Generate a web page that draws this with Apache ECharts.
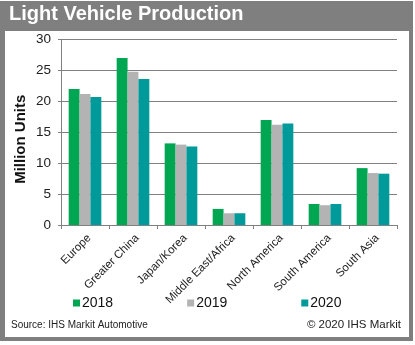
<!DOCTYPE html>
<html>
<head>
<meta charset="utf-8">
<style>
  html, body { margin: 0; padding: 0; background: #ffffff; }
  #chart { width: 415px; height: 345px; }
</style>
<script src="https://cdn.jsdelivr.net/npm/echarts@6/dist/echarts.min.js"></script>
</head>
<body>
<div id="chart"></div>
<script>
// Light vehicle production by region, million units
const regions = ['Europe', 'Greater China', 'Japan/Korea', 'Middle East/Africa', 'North America', 'South America', 'South Asia'];
const years = ['2018', '2019', '2020'];
const prod2018 = [22.0, 27.0, 13.2, 2.6, 17.0, 3.4, 9.2];
const prod2019 = [21.2, 24.8, 13.0, 1.9, 16.2, 3.2, 8.4];
const prod2020 = [20.7, 23.6, 12.7, 1.9, 16.4, 3.4, 8.3];
const yTicks = [0, 5, 10, 15, 20, 25, 30];

const colors = ['#00a651', '#b3b3b3', '#009a9a'];
const font = 'Liberation Sans, Arial, sans-serif';

const chart = echarts.init(document.getElementById('chart'), null, { renderer: 'canvas' });

const seriesData = [prod2018, prod2019, prod2020];

chart.setOption({
  animation: false,
  backgroundColor: '#ffffff',
  color: colors,
  graphic: [
    // grey frame with header band
    { type: 'rect', z: -10, shape: { x: 0, y: 1, width: 413, height: 340 }, style: { fill: '#7f7f7f' } },
    // white panel
    { type: 'rect', z: -9, shape: { x: 5, y: 31, width: 404, height: 306 }, style: { fill: '#ffffff' } }
  ],
  title: [
    {
      text: 'Light Vehicle Production',
      left: 9, top: 4, padding: 0,
      textStyle: { color: '#ffffff', fontFamily: font, fontWeight: 'bold', fontSize: 20 }
    },
    {
      text: 'Source: IHS Markit Automotive',
      left: 11, top: 320, padding: 0,
      textStyle: { color: '#222222', fontFamily: font, fontWeight: 'normal', fontSize: 10 }
    },
    {
      text: '\u00a9 2020 IHS Markit',
      right: 14, top: 319, padding: 0,
      textStyle: { color: '#222222', fontFamily: font, fontWeight: 'normal', fontSize: 11.5 }
    }
  ],
  legend: {
    data: years,
    left: 73, top: 296,
    icon: 'rect',
    itemWidth: 7, itemHeight: 7,
    itemGap: 74,
    padding: 0,
    textStyle: { color: '#111111', fontFamily: font, fontSize: 14, padding: [0, 0, 0, -3] }
  },
  grid: { left: 61, top: 39.5, right: 18, bottom: 120, containLabel: false },
  xAxis: {
    type: 'category',
    data: regions,
    axisLine: { lineStyle: { color: '#808080', width: 1 } },
    axisTick: { show: true, alignWithLabel: false, length: 4, lineStyle: { color: '#808080' } },
    axisLabel: {
      rotate: 45, interval: 0, margin: 7,
      verticalAlign: 'top',
      color: '#222222', fontFamily: font, fontSize: 11.5
    }
  },
  yAxis: {
    type: 'value',
    min: 0, max: 30, interval: 5,
    name: 'Million Units',
    nameLocation: 'middle',
    nameGap: 33,
    nameMoveOverlap: false,
    nameTextStyle: { color: '#111111', fontFamily: font, fontWeight: 'bold', fontSize: 15, padding: [0, 14, 0, 0] },
    axisLine: { show: true, lineStyle: { color: '#808080', width: 1 } },
    axisTick: { show: true, length: 3, lineStyle: { color: '#808080' } },
    splitLine: { show: true, lineStyle: { color: '#808080', width: 1 } },
    axisLabel: {
      margin: 10, color: '#222222', fontFamily: font, fontSize: 13.5,
      formatter: function (v) { return yTicks.indexOf(v) >= 0 ? String(v) : ''; }
    }
  },
  series: years.map(function (y, i) {
    return {
      name: y,
      type: 'bar',
      data: seriesData[i],
      barGap: '0%',
      barCategoryGap: '32%',
      itemStyle: { color: colors[i] }
    };
  })
});
</script>
</body>
</html>
